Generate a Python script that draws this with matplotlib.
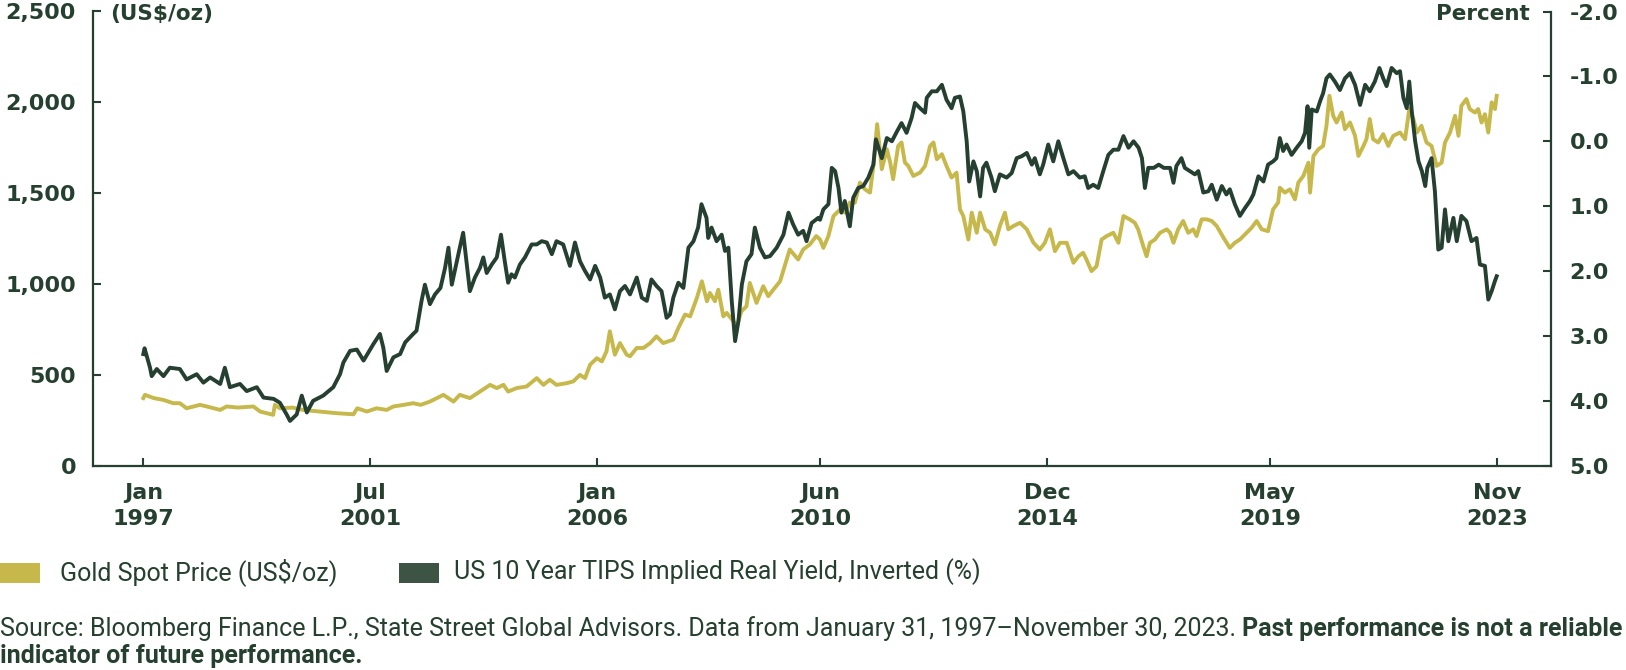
import matplotlib
matplotlib.use("Agg")
import matplotlib.pyplot as plt
from matplotlib.patches import Rectangle

# ---------------- data ----------------
# x = months since January 1997
gold_months = [0, 0.4, 2.5, 4.8, 7.1, 8.7, 10.3, 13.5, 15.1, 18.3, 19.8, 22.5, 26.2, 27.8, 30.9, 31.3,
               32.5, 35.5, 38.0, 42.0, 46.0, 50.0, 50.9, 53.2, 55.5, 57.9, 59.5, 62.0, 64.2, 66.0, 68.2,
               71.4, 73.8, 75.3,
               77.7, 80.1, 82.5, 84.1, 85.7, 86.8, 88.8, 91.2, 93.6, 95.2, 96.7, 98.3, 100.7, 102.3,
               103.9, 105.1, 106.3, 107.9, 109.1, 110.2, 111.0, 112.2, 113.4, 115.0, 115.8, 117.4,
               119.0, 120.6, 122.1, 123.7, 126.1, 127.3, 128.9, 130.1, 131.7, 132.9, 134.1, 134.8,
               136.0, 136.8, 138.0, 138.8, 140.4, 141.2, 142.3, 143.5, 144.3, 145.9, 147.5, 148.7,
               149.9, 151.5, 152.6, 153.8, 155.8, 157.0, 158.6, 160.1,
               161.0, 161.8, 163.0, 164.2, 165.8, 167.0, 168.1, 169.3, 170.5, 171.7, 172.9, 173.7,
               174.6, 175.7, 176.9, 177.7, 178.4, 179.6, 180.4, 181.2, 182.0, 183.2, 184.8, 186.0,
               187.2, 188.0, 188.8, 190.0, 191.1, 192.3, 193.5, 194.3, 195.1, 196.3, 197.1, 198.3,
               199.1, 200.3, 201.5, 202.6, 203.8, 205.0, 205.8, 207.0, 208.6, 210.2, 211.8, 213.3,
               214.5, 215.7, 216.9, 218.1, 219.7, 221.3, 222.5, 223.6, 224.4, 225.6, 226.8, 228.0,
               229.2, 230.8, 232.0, 233.2, 234.7, 235.9, 236.7, 237.9, 238.7, 239.5, 240.7, 241.9,
               243.5,
               244.3, 245.1, 246.2, 247.4, 248.6, 249.8, 250.6, 251.8, 253.0, 254.2, 255.4, 257.0,
               258.5, 259.7, 260.9, 262.5, 263.7, 264.9, 266.1, 267.6, 268.8, 270.0, 270.4, 271.6,
               272.8, 274.0, 274.8, 276.0, 277.2, 277.6, 278.4, 279.6, 280.7, 281.5, 282.2, 283.1,
               283.9, 285.1, 285.9, 287.1, 288.3, 289.1, 290.3, 291.0, 291.8, 292.6, 293.8, 295.0,
               296.2, 297.4, 299.0, 300.2, 301.2, 302.2, 303.0, 304.1, 305.3, 306.5, 307.7, 308.9,
               309.7, 310.9, 312.1, 312.9, 313.6, 314.8, 315.6, 316.8, 317.6, 318.4, 319.2, 320.0,
               320.8, 321.6, 322.0]
gold_values = [372, 390, 372, 362, 344, 344, 316, 335, 326, 307, 326, 320, 326, 298, 280, 335,
               316, 320, 307, 298, 289, 283, 316, 298, 316, 307, 326, 335, 344, 335, 353,
               390, 353, 390,
               372, 408, 445, 427, 445, 408, 427, 436, 482, 445, 473, 445, 454, 464,
               500, 482, 556, 592, 574, 629, 740, 611, 675, 611, 602, 648,
               648, 675, 712, 675, 694, 758, 832, 822, 923, 1015, 905, 951,
               905, 969, 822, 841, 795, 767, 850, 877, 1006, 896, 988, 933,
               969, 1015, 1098, 1190, 1135, 1190, 1218, 1264,
               1245, 1199, 1264, 1374, 1411, 1393, 1448, 1448, 1558, 1521, 1503, 1650,
               1880, 1632, 1742, 1669, 1577, 1760, 1779, 1669, 1650, 1595, 1613, 1650,
               1760, 1779, 1687, 1715, 1650, 1586, 1613, 1411, 1374, 1245, 1393, 1282,
               1393, 1301, 1282, 1218, 1319, 1393, 1301, 1319, 1337, 1301, 1227, 1190,
               1227, 1301, 1181, 1227, 1227, 1117, 1153, 1172, 1135, 1071, 1098, 1245,
               1264, 1282, 1227, 1374, 1356, 1337, 1301, 1209, 1153, 1227, 1245, 1282,
               1301,
               1282, 1227, 1301, 1347, 1282, 1301, 1264, 1356, 1356, 1347, 1319, 1255,
               1199, 1227, 1245, 1282, 1310, 1347, 1301, 1291, 1411, 1448, 1530, 1503,
               1521, 1466, 1558, 1595, 1668, 1503, 1705, 1742, 1760, 1871, 2036, 1926,
               1889, 1944, 1852, 1889, 1816, 1705, 1760, 1797, 1908, 1797, 1779, 1825,
               1760, 1816, 1834, 1797, 1963, 1908, 1834, 1871, 1779, 1760, 1650, 1668,
               1779, 1834, 1926, 1816, 1981, 2018, 1963, 1944, 1963, 1889, 1935, 1834,
               2000, 1963, 2036]

tips_months = [0, 0.3, 1.6, 2.0, 3.2, 4.8, 6.3, 8.7, 10.3, 12.7, 14.3, 15.9, 18.3, 19.4, 20.6,
               23.0, 24.6, 27.0, 28.6, 31.0, 32.5, 34.1, 34.9, 36.5, 37.7, 38.9, 40.4, 42.8, 45.2,
               46.8, 47.6, 49.2, 50.8, 52.4, 54.7, 56.3, 57.1, 57.9, 59.5, 61.1, 62.3, 64.2, 65.0,
               66.2, 67.0, 68.2, 69.4, 70.7, 71.8, 72.6, 73.4, 74.6, 75.3, 76.1,
               77.7, 78.9, 80.1, 80.9, 81.7, 82.9, 84.1, 85.1, 86.0, 86.8, 87.6, 88.4, 89.6, 90.8,
               92.4, 93.6, 94.8, 96.0, 97.2, 98.3, 99.9, 101.5, 102.7, 103.9, 105.1, 106.3, 107.5,
               108.7, 109.8, 111.0, 112.2, 113.4, 114.6, 115.8, 117.4, 118.6, 119.8, 120.9, 122.1,
               123.3, 124.5, 125.3, 126.1, 127.3, 128.5, 129.7, 130.9, 132.0, 132.8, 134.0, 134.4,
               135.2, 136.4, 137.6, 138.4, 139.2, 140.0, 140.8, 141.6, 142.4, 143.5, 144.7, 145.5,
               146.7, 147.9, 149.1, 150.7, 152.3, 153.5, 154.6, 155.8, 157.0, 157.8, 159.0, 160.6,
               161.0, 161.8, 163.0, 163.8, 164.6, 165.4, 166.1, 166.9, 168.1, 168.9, 170.1, 171.3,
               172.5, 173.7, 174.3, 175.7, 176.9, 178.1, 179.3, 180.4, 181.6, 182.8, 183.6, 184.8,
               186.0, 186.4, 187.6, 188.8, 190.0, 191.1, 192.3, 193.1, 194.3, 195.1, 195.9, 196.5,
               197.5, 198.3, 199.1, 199.8, 200.6, 201.8, 202.6, 203.8, 205.4, 206.6, 207.8, 209.0,
               210.2, 211.4, 212.1, 213.3, 214.1, 215.3, 216.5, 217.7, 218.9, 220.1, 221.3, 222.8,
               224.0, 224.8, 226.0, 227.2, 228.4, 229.6, 230.8, 232.0, 233.2, 234.4, 235.6, 236.8,
               237.6, 238.3, 239.1, 240.4, 241.6, 242.8, 244.0,
               244.3, 245.1, 245.8, 247.0, 247.8, 249.0, 250.2, 251.0, 252.2, 253.4, 254.2, 255.4,
               256.6, 257.7, 258.5, 259.7, 260.9, 262.1, 263.3, 264.1, 265.3, 266.5, 267.6, 268.8,
               269.6, 270.4, 271.2, 272.0, 273.2, 274.4, 275.6, 276.4, 277.0, 277.4, 278.0, 279.2,
               280.0, 280.7, 281.5, 282.3, 283.5, 284.7, 285.9, 287.1, 288.3, 289.5, 290.7, 291.8,
               293.0, 294.1, 295.0, 295.8, 297.0, 298.2, 299.0, 299.8, 300.6, 301.2, 301.8, 302.6,
               303.4, 304.2, 305.0, 305.5, 306.5, 307.3, 308.1, 308.9, 309.7, 310.5, 311.7, 312.5,
               313.6, 314.8, 316.0, 317.2, 318.0, 319.2, 320.0, 320.8, 321.6, 322.0]
tips_values = [3.28, 3.19, 3.49, 3.62, 3.51, 3.62, 3.49, 3.51, 3.67, 3.59, 3.72, 3.64, 3.74, 3.49, 3.79,
               3.74, 3.85, 3.79, 3.95, 3.97, 4.03, 4.21, 4.31, 4.21, 3.92, 4.18, 4.00, 3.92, 3.79,
               3.59, 3.41, 3.23, 3.21, 3.38, 3.13, 2.97, 3.18, 3.54, 3.33, 3.28, 3.10, 2.97, 2.92,
               2.46, 2.21, 2.51, 2.36, 2.26, 1.95, 1.64, 2.21, 1.85, 1.64, 1.41,
               2.31, 2.10, 1.95, 1.79, 2.03, 1.90, 1.79, 1.44, 1.85, 2.18, 2.05, 2.10, 1.90, 1.79,
               1.59, 1.59, 1.54, 1.56, 1.74, 1.54, 1.59, 1.92, 1.56, 1.85, 2.00, 2.13, 1.92,
               2.10, 2.41, 2.36, 2.59, 2.31, 2.23, 2.36, 2.10, 2.41, 2.46, 2.13, 2.23,
               2.31, 2.72, 2.67, 2.41, 2.18, 2.26, 1.64, 1.54, 1.33, 0.97, 1.18, 1.49,
               1.33, 1.54, 1.44, 1.69, 1.64, 2.46, 3.08, 2.77, 2.21, 1.85, 1.74, 1.33,
               1.64, 1.79, 1.77, 1.64, 1.44, 1.10, 1.28, 1.44, 1.38, 1.54, 1.26, 1.18,
               1.21, 1.05, 0.97, 0.41, 0.46, 0.72, 1.10, 0.92, 1.31, 0.87, 0.72, 0.69,
               0.56, 0.36, -0.03, 0.26, -0.05, 0.00, -0.15, -0.28, -0.13, -0.36, -0.59, -0.51,
               -0.44, -0.67, -0.77, -0.77, -0.87, -0.64, -0.51, -0.67, -0.69, -0.46, 0.00, 0.62,
               0.31, 0.46, 0.85, 0.41, 0.33, 0.56, 0.77, 0.51, 0.56, 0.49, 0.26, 0.23,
               0.18, 0.36, 0.26, 0.51, 0.36, 0.05, 0.31, 0.00, 0.26, 0.51, 0.46, 0.56,
               0.54, 0.72, 0.67, 0.72, 0.46, 0.21, 0.13, 0.13, -0.08, 0.10, 0.00, 0.10,
               0.26, 0.72, 0.41, 0.41, 0.36, 0.41, 0.41,
               0.41, 0.64, 0.38, 0.26, 0.41, 0.46, 0.51, 0.46, 0.79, 0.77, 0.67, 0.90,
               0.69, 0.82, 0.74, 0.97, 1.15, 1.03, 0.92, 0.82, 0.54, 0.62, 0.36, 0.31,
               0.26, -0.05, 0.15, 0.05, 0.21, 0.10, 0.00, -0.13, -0.54, 0.10, -0.49, -0.46,
               -0.62, -0.74, -0.97, -1.03, -0.92, -0.79, -0.97, -1.05, -0.87, -0.56, -0.87, -0.77,
               -0.92, -1.13, -0.97, -0.85, -1.13, -1.05, -1.08, -0.67, -0.51, -0.92, -0.46, 0.00,
               0.31, 0.46, 0.69, 0.41, 0.26, 0.77, 1.67, 1.64, 1.05, 1.54, 1.18, 1.54,
               1.15, 1.23, 1.54, 1.49, 1.90, 1.92, 2.44, 2.31, 2.15, 2.08]

tick_months = [0, 54, 108, 161, 215, 268, 322]
tick_labels = ["Jan\n1997", "Jul\n2001", "Jan\n2006", "Jun\n2010", "Dec\n2014", "May\n2019", "Nov\n2023"]
left_ticks = [0, 500, 1000, 1500, 2000, 2500]
right_ticks = [-2.0, -1.0, 0.0, 1.0, 2.0, 3.0, 4.0, 5.0]

series_names = ["Gold Spot Price (US$/oz)", "US 10 Year TIPS Implied Real Yield, Inverted (%)"]
source_text = ("Source: Bloomberg Finance L.P., State Street Global Advisors. "
               "Data from January 31, 1997\u2013November 30, 2023.")
disclaimer_1 = "Past performance is not a reliable"
disclaimer_2 = "indicator of future performance."

# ---------------- style ----------------
GOLD = "#c7b84c"
DARK = "#253f31"
PATCH_DARK = "#3d5445"
TEXT = "#25402f"
W, H = 1626, 670
plt.rcParams["axes.unicode_minus"] = False

fig = plt.figure(figsize=(W / 100, H / 100), dpi=100)
ax = fig.add_axes([92.7 / W, 1 - 465.7 / H, (1550.7 - 92.7) / W, (465.7 - 11.5) / H])
ax2 = ax.twinx()

ax.plot(gold_months, gold_values, color=GOLD, lw=2.8, solid_joinstyle="round")
ax2.plot(tips_months, tips_values, color=DARK, lw=2.8, solid_joinstyle="round")

ax.set_xlim(-12.04, 334.85)
ax.set_ylim(0, 2500)
ax2.set_ylim(5, -2)

tick_font = dict(family="DejaVu Sans", weight="bold", size=16)
ax.set_xticks(tick_months)
ax.set_xticklabels(tick_labels, fontdict=tick_font, color=TEXT, linespacing=1.38)
ax.set_yticks(left_ticks)
ax.set_yticklabels([f"{v:,}" for v in left_ticks], fontdict=tick_font, color=TEXT)
ax2.set_yticks(right_ticks)
ax2.set_yticklabels([f"{v:.1f}" for v in right_ticks], fontdict=tick_font, color=TEXT)

for a in (ax, ax2):
    for s in a.spines.values():
        s.set_color(DARK)
        s.set_linewidth(1.6)
    a.spines["top"].set_visible(False)
ax.spines["right"].set_visible(False)
ax2.spines["left"].set_visible(False)
ax2.spines["bottom"].set_visible(False)

ax.tick_params(axis="x", direction="in", length=6, width=1.5, color=DARK, pad=12.5)
ax.tick_params(axis="y", direction="in", length=6, width=1.5, color=DARK, pad=12)
ax2.tick_params(axis="y", direction="in", length=6, width=1.5, color=DARK, pad=13.5)

fig.text(110 / W, 1 - 14 / H, "(US$/oz)", ha="left", va="center", color=TEXT,
         family="DejaVu Sans", weight="bold", size=15.5)
fig.text(1530 / W, 1 - 14 / H, "Percent", ha="right", va="center", color=TEXT,
         family="DejaVu Sans", weight="bold", size=15.5)

# legend
leg_y = 572
fig.add_artist(Rectangle((0, 1 - 583 / H), 40 / W, 20 / H, transform=fig.transFigure,
                         facecolor=GOLD, edgecolor="none"))
fig.text(60 / W, 1 - leg_y / H, series_names[0], ha="left", va="center", color=TEXT,
         family="Roboto", size=18)
fig.add_artist(Rectangle((399 / W, 1 - 583 / H), 40 / W, 20 / H, transform=fig.transFigure,
                         facecolor=PATCH_DARK, edgecolor="none"))
fig.text(454 / W, 1 - leg_y / H, series_names[1], ha="left", va="center", color=TEXT,
         family="Roboto", size=18)

# footnote
fs = 18
t1 = fig.text(0, 1 - 629 / H, source_text, ha="left", va="center", color=TEXT,
              family="Roboto", size=fs)
fig.canvas.draw()
bb = t1.get_window_extent(renderer=fig.canvas.get_renderer())
fig.text((bb.x1 + 6) / W, 1 - 629 / H, disclaimer_1, ha="left", va="center", color=TEXT,
         family="Roboto", weight="bold", size=fs)
fig.text(0, 1 - 656 / H, disclaimer_2, ha="left", va="center", color=TEXT,
         family="Roboto", weight="bold", size=fs)

fig.savefig("out.png", dpi=100)
